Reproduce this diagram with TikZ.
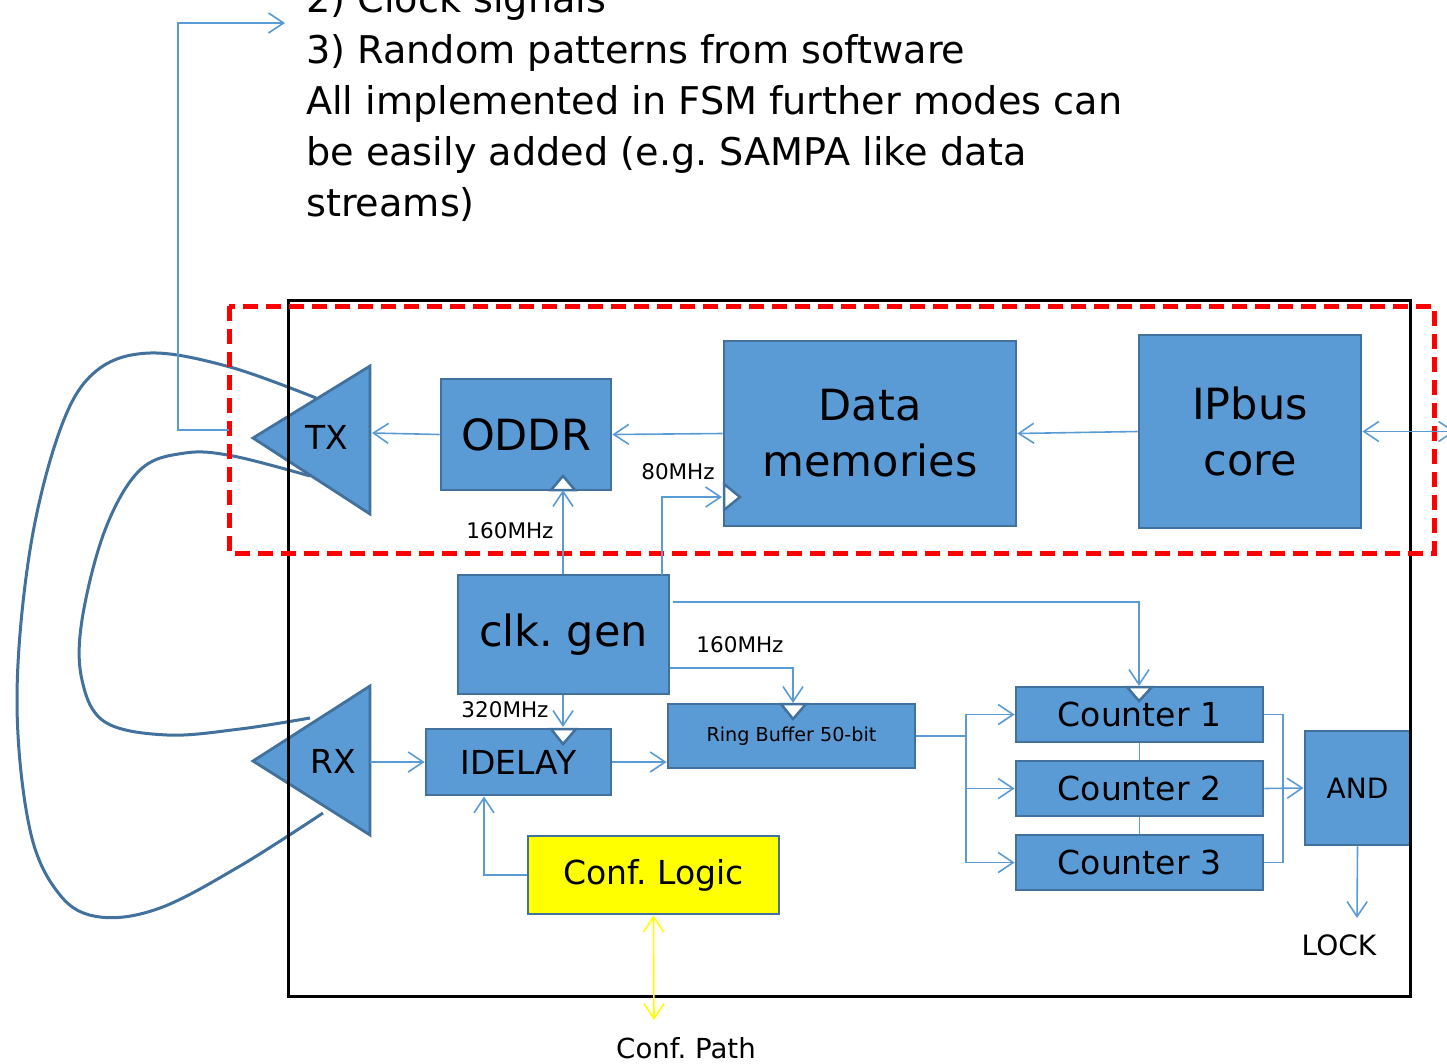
\documentclass[tikz,border=0pt]{standalone}
\usepackage{fontspec}
\setmainfont{DejaVu Sans}
\usetikzlibrary{arrows.meta}
\frenchspacing
\definecolor{bfill}{HTML}{5B9BD5}
\definecolor{bdr}{HTML}{41719C}
\definecolor{cablec}{HTML}{41719C}
\definecolor{lblue}{HTML}{5B9BD5}
\definecolor{yel}{HTML}{FFFF00}
\newcommand\myfs[2]{\fontsize{#1}{#2}\selectfont}
\tikzset{
  box/.style={draw=bdr, fill=bfill, line width=2.8pt, inner sep=0pt, align=center, font=\myfs{43}{56}},
  midbox/.style={box, font=\myfs{33}{40}},
  conn/.style={draw=lblue, line width=1.6pt},
  tip/.tip={Straight Barb[length=15pt,width=20pt]},
  arr/.style={conn, -tip},
  clkt/.style={draw=bdr, fill=white, line width=2.5pt, line join=miter},
  cablestyle/.style={draw=cablec, line width=3pt},
  toptext/.style={anchor=base west, inner sep=0pt, font=\myfs{38.2}{51}},
  freq/.style={inner sep=0pt, font=\myfs{21.5}{26}},
  tri/.style={draw=bdr, fill=bfill, line width=2.8pt, line join=miter},
}
\begin{document}
\begin{tikzpicture}[x=1pt,y=-1pt]
\useasboundingbox (0,0) rectangle (1447,1063);

% top text
\node[toptext] (t2) at (306,12) {2) Clock signals};
\node[toptext] (t3) at (306,63) {3) Random patterns from software};
\node[toptext] (t4) at (306,114) {All implemented in FSM further modes can};
\node[toptext] (t5) at (306,165) {be easily added (e.g. SAMPA like data};
\node[toptext] (t6) at (306,216) {streams)};

% cables (loopback)
\coordinate (ca1) at (316,398);
\coordinate (ca2) at (323,813);
\coordinate (cb1) at (310,476);
\coordinate (cb2) at (310,718);
\draw[cablestyle] plot[smooth, tension=0.6] coordinates {(ca1) (230,367) (150,353) (95,372) (60,430) (30,550) (17,700) (30,830) (60,895) (100,917) (160,908) (240,866) (ca2)};
\draw[cablestyle] plot[smooth, tension=0.6] coordinates {(cb1) (233,456) (185,453) (140,470) (105,530) (82,620) (82,680) (105,722) (167,735) (240,729) (cb2)};

% TX / RX triangles
\draw[tri] (253,438) -- (370,366) -- (370,514) -- cycle;
\node[inner sep=0pt, font=\myfs{33}{40}] (TX) at (327,437) {TX};
\draw[tri] (253,761) -- (370,686) -- (370,835) -- cycle;
\node[inner sep=0pt, font=\myfs{33}{40}] (RX) at (333,761) {RX};
\coordinate (txr) at (372,433);
\coordinate (rxr) at (370,762);
\coordinate (txl) at (229,430);

% boxes
\node[box, minimum width=170pt, minimum height=111pt] (oddr) at (526,434.5) {ODDR};
\node[box, minimum width=292pt, minimum height=185pt] (data) at (870,433.5) {Data\\memories};
\node[box, minimum width=222pt, minimum height=193pt] (ipbus) at (1250,431.5) {IPbus\\core};
\node[box, minimum width=211pt, minimum height=119pt] (clk) at (563.5,634.5) {clk. gen};
\node[midbox, minimum width=185pt, minimum height=66pt] (idelay) at (518.5,762) {IDELAY};
\node[box, font=\myfs{19.2}{24}, minimum width=247pt, minimum height=64pt] (ring) at (791.5,736) {Ring Buffer 50-bit};
\node[midbox, minimum width=247pt, minimum height=55pt] (c1) at (1139.5,714.5) {Counter 1};
\node[midbox, minimum width=247pt, minimum height=55pt] (c2) at (1139.5,788.5) {Counter 2};
\node[midbox, minimum width=247pt, minimum height=55pt] (c3) at (1139.5,862.5) {Counter 3};
\node[box, font=\myfs{28}{34}, minimum width=105pt, minimum height=114pt] (and) at (1357.5,788) {AND};
\node[midbox, fill=yel, minimum width=251pt, minimum height=78pt] (conf) at (653.5,875) {Conf. Logic};

% clock input marks
\draw[clkt] (551,490) -- (563,476) -- (575,490) -- cycle;
\draw[clkt] (724,484) -- (740,497) -- (724,510) -- cycle;
\draw[clkt] (551,729) -- (563,744) -- (576,729) -- cycle;
\draw[clkt] (781,704) -- (793,719) -- (806,704) -- cycle;
\draw[clkt] (1127,687) -- (1139,701) -- (1152,687) -- cycle;

% frames
\draw[black, line width=3pt] (288,300) rectangle (1410,996);
\draw[red, line width=5pt, dash pattern=on 15pt off 8pt] (229,306) rectangle (1434,553);

% helper coordinates
\coordinate (oddrclk) at (563,490);
\coordinate (c80) at (662,575);
\coordinate (dmclk) at (722,497);
\coordinate (s602) at (673,602);
\coordinate (c1clk) at (1139,686);
\coordinate (s668) at (670,668);
\coordinate (ringclk) at (793,703);
\coordinate (idclk) at (563,727);
\coordinate (fan) at (966,0);
\coordinate (join) at (1283,0);
\coordinate (lockend) at (1357,918);
\coordinate (ix) at (484,0);
\coordinate (cpend) at (654,1020);
\coordinate (tl) at (178,23);
\coordinate (ttip) at (285,23);
\coordinate (ipext) at (1455,431.5);

% connectors
\draw[arr] (oddr.west) -- (txr);
\draw[arr] (data.west) -- (oddr.east);
\draw[arr] (ipbus.west) -- (data.east);
\draw[conn, tip-tip] (ipbus.east) -- (ipext);
\draw[arr] (clk.north -| oddrclk) -- (oddrclk);
\draw[arr] (c80) |- (dmclk);
\draw[arr] (s602) -| (c1clk);
\draw[arr] (s668) -| (ringclk);
\draw[arr] (clk.south -| idclk) -- (idclk);
\draw[arr] (rxr) -- (idelay.west);
\draw[arr] (idelay.east) -- (idelay.east -| ring.west);
\draw[conn] (ring.east) -- (ring.east -| fan);
\draw[arr] (ring.east -| fan) |- (c1.west);
\draw[arr] (ring.east -| fan) |- (c3.west);
\draw[arr] (c2.west -| fan) -- (c2.west);
\draw[conn] (c1.east) -| (c3.east -| join) -- (c3.east);
\draw[arr] (c2.east) -- (and.west);
\draw[conn] (c1.south) -- (c2.north);
\draw[conn] (c2.south) -- (c3.north);
\draw[arr] (and.south) -- (lockend);
\draw[arr] (conf.west) -| (idelay.south -| ix);
\draw[draw=yel, line width=1.6pt, tip-tip] (conf.south) -- (cpend);
\draw[arr] (txl) -| (tl) -- (ttip);

% labels
\node[freq] (f160a) at (510,531) {160MHz};
\node[freq] (f80) at (678,472) {80MHz};
\node[freq] (f160b) at (740,645) {160MHz};
\node[freq] (f320) at (505,710) {320MHz};
\node[inner sep=0pt, font=\myfs{28}{34}] (lock) at (1339,945) {LOCK};
\node[inner sep=0pt, font=\myfs{27.6}{34}] (cpath) at (686,1048) {Conf. Path};
\end{tikzpicture}
\end{document}
